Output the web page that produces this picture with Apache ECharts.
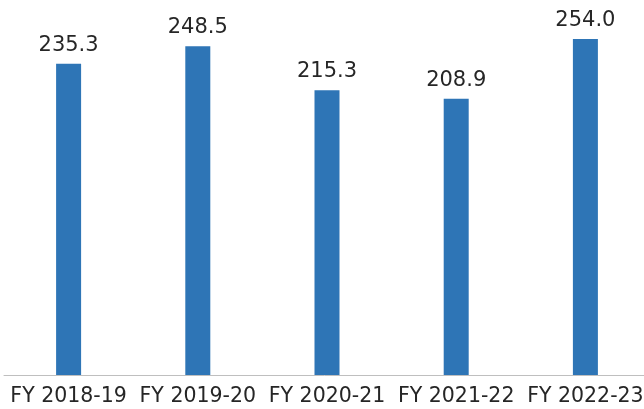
<!DOCTYPE html>
<html>
<head>
<meta charset="utf-8">
<script src="https://cdn.jsdelivr.net/npm/echarts@6/dist/echarts.min.js"></script>
<style>
html,body{margin:0;padding:0;background:#fff;}
#c{width:644px;height:409px;}
</style>
</head>
<body>
<div id="c"></div>
<script>
const categories = ['FY 2018-19', 'FY 2019-20', 'FY 2020-21', 'FY 2021-22', 'FY 2022-23'];
const values = [235.3, 248.5, 215.3, 208.9, 254.0];

const chart = echarts.init(document.getElementById('c'), null, {renderer: 'canvas'});
chart.setOption({
  animation: false,
  backgroundColor: '#ffffff',
  grid: {left: 4, width: 646, top: 4.6, bottom: 34, outerBoundsMode: 'none'},
  xAxis: {
    type: 'category',
    data: categories,
    axisTick: {show: false},
    axisLine: {lineStyle: {color: '#BFBFBF', width: 1}},
    axisLabel: {
      color: '#262626', fontSize: 20.5, fontFamily: 'DejaVu Sans', margin: 11, interval: 0
    }
  },
  yAxis: {
    type: 'value', min: 0, max: 280,
    show: false,
    splitLine: {show: false}
  },
  series: [{
    type: 'bar',
    data: values,
    barWidth: 25,
    itemStyle: {color: '#2E75B6'},
    label: {
      show: true, position: 'top', distance: 8,
      color: '#262626', fontSize: 21, fontFamily: 'DejaVu Sans',
      formatter: p => p.value.toFixed(1)
    }
  }]
});
</script>
</body>
</html>
